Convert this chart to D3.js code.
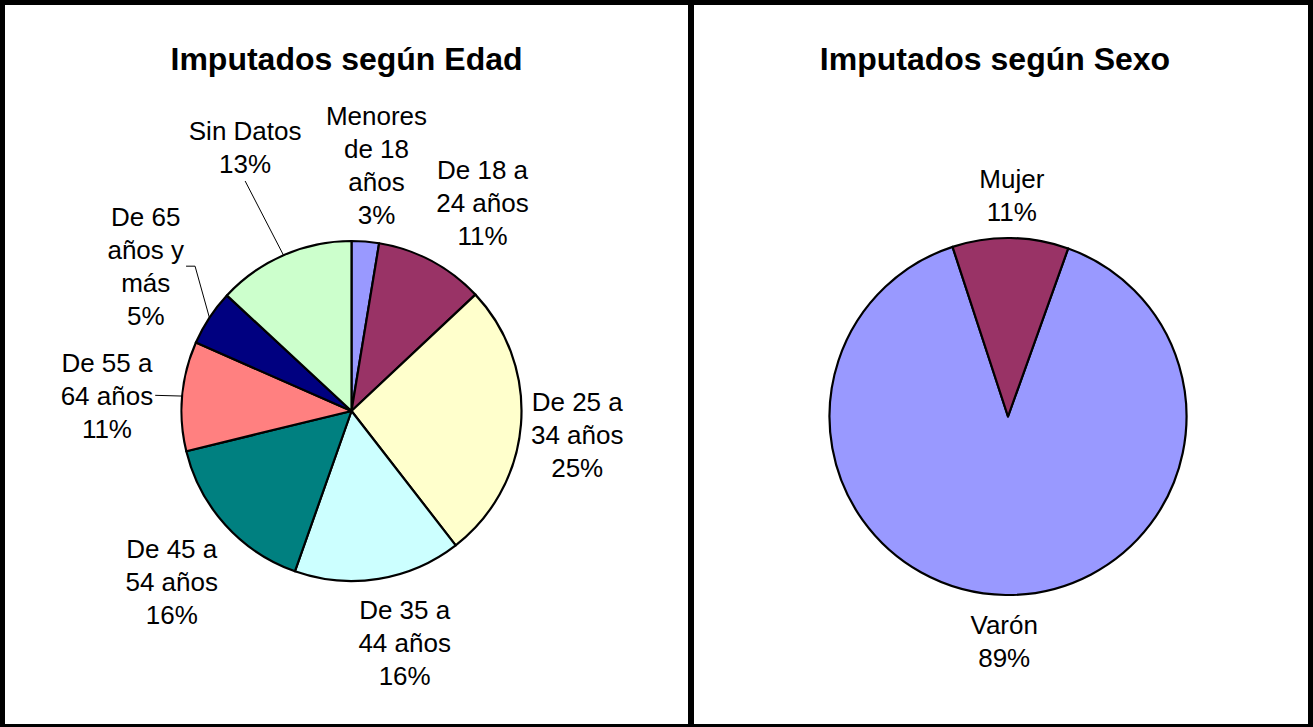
<!DOCTYPE html>
<html>
<head>
<meta charset="utf-8">
<script src="https://cdn.jsdelivr.net/npm/d3@7"></script>
<style>
  body { margin: 0; background: #fff; }
  text { font-family: "Liberation Sans", Arial, sans-serif; fill: #000; }
</style>
</head>
<body>
<div id="chart"></div>
<script>

// Age chart data (shares, label text as printed)
var edadCategories = [
  ["Menores", "de 18", "años"],
  ["De 18 a", "24 años"],
  ["De 25 a", "34 años"],
  ["De 35 a", "44 años"],
  ["De 45 a", "54 años"],
  ["De 55 a", "64 años"],
  ["De 65", "años y", "más"],
  ["Sin Datos"]
];
var edadValues = [2.6, 10.4, 26.5, 15.9, 15.8, 10.4, 5.3, 13.1];
var edadPercents = ["3%", "11%", "25%", "16%", "16%", "11%", "5%", "13%"];

// Sex chart data
var sexoCategories = [["Varón"], ["Mujer"]];
var sexoValues = [89.5, 10.5];
var sexoPercents = ["89%", "11%"];

// colours (Excel default pie palette)
var edadColors = ["#9999ff", "#993366", "#ffffcc", "#ccffff", "#008080", "#ff8080", "#000080", "#ccffcc"];
var sexoColors = ["#9999ff", "#993366"];

var W = 1313, H = 727;
var fontSize = 26, lineH = 33;

var svg = d3.select("#chart")
  .append("svg")
  .attr("width", W)
  .attr("height", H);

// black frame with two white panels
svg.append("rect").attr("width", W).attr("height", H).attr("fill", "#000");
svg.append("rect").attr("x", 5).attr("y", 5).attr("width", 683).attr("height", 719).attr("fill", "#fff");
svg.append("rect").attr("x", 694).attr("y", 5).attr("width", 614).attr("height", 719).attr("fill", "#fff");

function drawPie(opts) {
  var g = svg.append("g");

  g.append("text")
    .attr("x", opts.titleX)
    .attr("y", 70)
    .attr("text-anchor", "middle")
    .style("font-size", "32px")
    .style("font-weight", "bold")
    .text(opts.title);

  var pie = d3.pie()
    .sort(null)
    .startAngle(opts.startAngle)
    .endAngle(opts.startAngle + 2 * Math.PI);

  var arcs = pie(opts.values);

  var arc = d3.arc()
    .innerRadius(0)
    .outerRadius(opts.r);

  var slices = g.append("g")
    .attr("transform", "translate(" + opts.cx + "," + opts.cy + ")");

  slices.selectAll("path")
    .data(arcs)
    .enter()
    .append("path")
    .attr("d", arc)
    .attr("fill", function(d, i) { return opts.colors[i]; })
    .attr("stroke", "#000")
    .attr("stroke-width", 2.2)
    .attr("stroke-linejoin", "round");

  // data labels, placed outside the slice ends like Excel does
  arcs.forEach(function(d, i) {
    var lines = opts.categories[i].concat([opts.percents[i]]);
    var label = g.append("text")
      .attr("text-anchor", "middle")
      .style("font-size", fontSize + "px");

    lines.forEach(function(t, j) {
      label.append("tspan")
        .attr("x", 0)
        .attr("y", (j - (lines.length - 1) / 2) * lineH + fontSize * 0.36)
        .text(t);
    });

    var bb = label.node().getBBox();
    var w = bb.width, h = lines.length * lineH;
    var a = (d.startAngle + d.endAngle) / 2;
    var sx = Math.sin(a), sy = -Math.cos(a);
    var px = opts.cx + sx * (opts.r + 10);
    var py = opts.cy + sy * (opts.r + 10);
    var clamp = function(v) { return Math.max(-1, Math.min(1, v)); };
    var nudge = opts.nudges[i] || [0, 0];
    var lx = px + clamp(2.5 * sx) * w / 2 + nudge[0];
    var ly = py + clamp(2.5 * sy) * h / 2 + nudge[1];

    label.attr("transform", "translate(" + lx + "," + ly + ")");

    // leader lines for the labels that were dragged away
    var lead = opts.leaders[i];
    if (lead) {
      var ex = opts.cx + sx * opts.r, ey = opts.cy + sy * opts.r;
      var pts;
      if (lead === "right") {
        pts = [[lx + w / 2 + 2, ly], [ex, ey]];
      } else if (lead === "stub") {
        pts = [[lx + w / 2 + 2, ly], [lx + w / 2 + 11, ly], [ex, ey]];
      } else {
        pts = [[lx, ly + h / 2 + 1], [ex, ey]];
      }
      g.append("path")
        .attr("d", d3.line()(pts))
        .attr("fill", "none")
        .attr("stroke", "#000")
        .attr("stroke-width", 1);
    }
  });
}

drawPie({
  title: "Imputados según Edad",
  titleX: 346.5,
  cx: 351.5, cy: 411, r: 170,
  startAngle: 0,
  values: edadValues,
  categories: edadCategories,
  percents: edadPercents,
  colors: edadColors,
  nudges: [[0, 0], [0, 0], [0, 0], [6, 4], [0, 0], [-19, 11], [-17, 20], [22, -66]],
  leaders: [null, null, null, null, null, "right", "stub", "bottom"]
});

drawPie({
  title: "Imputados según Sexo",
  titleX: 995,
  cx: 1008, cy: 416.5, r: 178.5,
  startAngle: 19.7 * Math.PI / 180,
  values: sexoValues,
  categories: sexoCategories,
  percents: sexoPercents,
  colors: sexoColors,
  nudges: [[0, 3], [0, 0]],
  leaders: [null, null]
});

</script>
</body>
</html>
